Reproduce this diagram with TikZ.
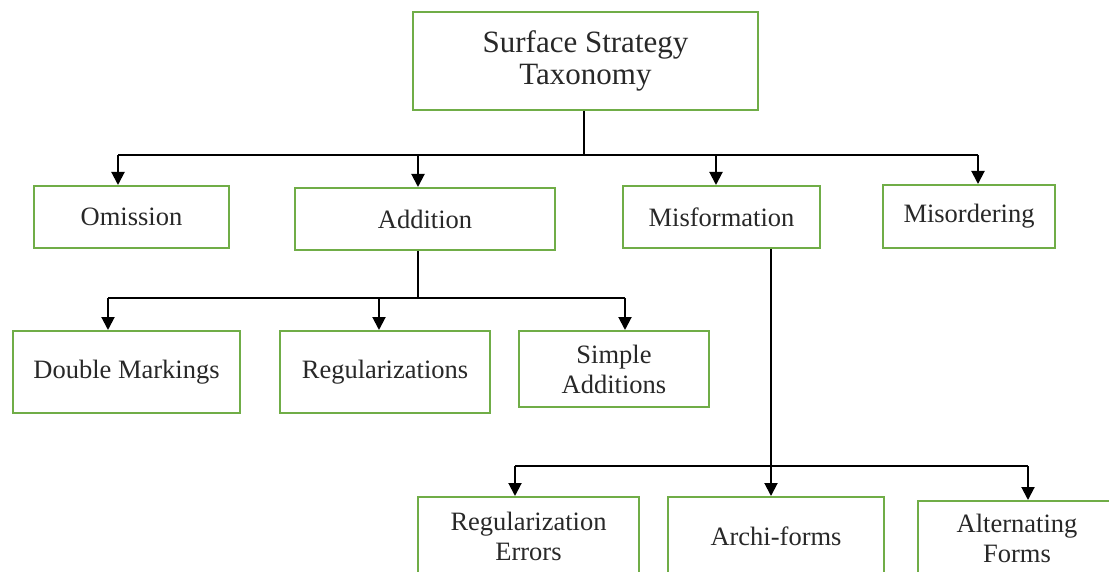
\documentclass[tikz,border=0pt]{standalone}
\usepackage{fontspec}
\setmainfont{Liberation Serif}
\usetikzlibrary{arrows.meta}
\definecolor{boxgreen}{RGB}{112,173,71}
\definecolor{txt}{RGB}{40,40,40}
\tikzset{
  box/.style={draw=boxgreen, line width=2pt, inner sep=0pt, align=center, text=txt,
    font=\fontsize{26.5}{30}\selectfont},
  topbox/.style={box, font=\fontsize{31}{32}\selectfont},
  conn/.style={draw=black, line width=2pt},
  arr/.style={conn, -{Triangle[width=13pt,length=13pt]}},
}
\begin{document}
\begin{tikzpicture}[x=1pt,y=-1pt]
\useasboundingbox (0,0) rectangle (1109,572);
\clip (0,0) rectangle (1109,572);
\fill[white] (0,0) rectangle (1109,572);
% boxes
\node[topbox, minimum width=345, minimum height=98] (top) at (585.5,61) {Surface Strategy\\Taxonomy};
\node[box, minimum width=195, minimum height=62] (omission) at (131.5,217) {Omission};
\node[box, minimum width=260, minimum height=62] (addition) at (425,219) {Addition};
\node[box, minimum width=197, minimum height=62] (misformation) at (721.5,217) {Misformation};
\node[box, minimum width=172, minimum height=63] (misordering) at (969,216.5) {Misordering};
\node[box, minimum width=227, minimum height=82] (double) at (126.5,372) {Double Markings};
\node[box, minimum width=210, minimum height=82] (regular) at (385,372) {Regularizations};
\node[box, minimum width=190, minimum height=76] (simple) at (614,369) {Simple\\Additions};
\node[box, minimum width=221, minimum height=79] (regerr) at (528.5,536.5) {Regularization\\Errors};
\node[box, minimum width=216, minimum height=79] (archi) at (776,536.5) {Archi-forms};
\node[box, minimum width=198, minimum height=75] (altern) at (1017,538.5) {Alternating\\Forms};
% level 1 connectors
\coordinate (h1) at (0,155);
\draw[conn] ([xshift=-1.5]top.south) -- ([xshift=-1.5]top.south |- h1);
\draw[conn] ([xshift=-13.5]omission.north |- h1) -- ([xshift=9]misordering.north |- h1);
\draw[arr] ([xshift=-13.5]omission.north |- h1) -- ([xshift=-13.5]omission.north);
\draw[arr] ([xshift=-7]addition.north |- h1) -- ([xshift=-7]addition.north);
\draw[arr] ([xshift=-5.5]misformation.north |- h1) -- ([xshift=-5.5]misformation.north);
\draw[arr] ([xshift=9]misordering.north |- h1) -- ([xshift=9]misordering.north);
% level 2 from Addition
\coordinate (h2) at (0,298);
\draw[conn] ([xshift=-7]addition.south) -- ([xshift=-7]addition.south |- h2);
\draw[conn] ([xshift=-18.5]double.north |- h2) -- ([xshift=11]simple.north |- h2);
\draw[arr] ([xshift=-18.5]double.north |- h2) -- ([xshift=-18.5]double.north);
\draw[arr] ([xshift=-6]regular.north |- h2) -- ([xshift=-6]regular.north);
\draw[arr] ([xshift=11]simple.north |- h2) -- ([xshift=11]simple.north);
% level 2 from Misformation
\coordinate (h3) at (0,466);
\draw[arr] ([xshift=49.5]misformation.south) -- ([xshift=49.5]misformation.south |- archi.north);
\draw[conn] ([xshift=-13.5]regerr.north |- h3) -- ([xshift=11]altern.north |- h3);
\draw[arr] ([xshift=-13.5]regerr.north |- h3) -- ([xshift=-13.5]regerr.north);
\draw[arr] ([xshift=11]altern.north |- h3) -- ([xshift=11]altern.north);
\end{tikzpicture}
\end{document}
